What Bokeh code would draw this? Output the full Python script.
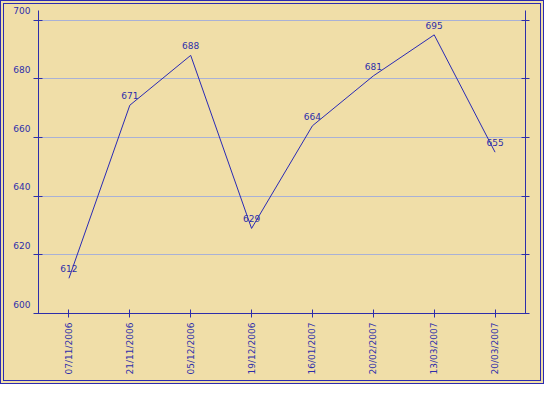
from bokeh.plotting import figure
from bokeh.models import ColumnDataSource, FactorRange, Range1d, LinearAxis, FixedTicker
from bokeh.core.properties import value
from bokeh.embed import file_html
from bokeh.resources import INLINE
import math

dates = ["07/11/2006", "21/11/2006", "05/12/2006", "19/12/2006",
         "16/01/2007", "20/02/2007", "13/03/2007", "20/03/2007"]
values = [612, 671, 688, 629, 664, 681, 695, 655]
y_ticks = [600, 620, 640, 660, 680, 700]

BLUE = "#2e2eaa"
LINE = "#2a2ab4"
GRID = "#a9b1d6"
BG = "#f0dea8"
FONT = "DejaVu Sans"

src = ColumnDataSource(dict(date=dates, val=values, lab=[str(v) for v in values]))

p = figure(width=544, height=384, output_backend="svg", toolbar_location=None,
           x_range=FactorRange(*dates, range_padding=0),
           y_range=Range1d(600, 703.3),
           min_border_left=34, min_border_right=23, min_border_top=6, min_border_bottom=75,
           background_fill_color=BG, border_fill_color=BG)
p.styles = {"border": "4px double #2b2bb0", "background-color": BG}
p.outline_line_color = None

p.line(x="date", y="val", source=src, line_color=LINE, line_width=1)
p.text(x="date", y="val", text="lab", source=src, text_font=value(FONT),
       text_font_size="9px", text_color=BLUE, text_align="center",
       text_baseline="bottom", y_offset=-6)

p.xgrid.grid_line_color = None
p.ygrid.ticker = FixedTicker(ticks=y_ticks)
p.ygrid.grid_line_color = GRID
p.ygrid.grid_line_width = 1

for ax in [p.xaxis[0], p.yaxis[0]]:
    ax.axis_line_color = BLUE
    ax.major_tick_line_color = BLUE
    ax.minor_tick_line_color = None
    ax.major_label_text_color = BLUE
    ax.major_label_text_font = FONT
    ax.major_label_text_font_size = "9px"
    ax.major_tick_in = 4
    ax.major_tick_out = 4

p.yaxis[0].ticker = FixedTicker(ticks=y_ticks)
p.yaxis[0].major_tick_out = 5
p.yaxis[0].major_label_standoff = 3
p.yaxis[0].major_label_text_line_height = 1.8
p.yaxis[0].major_label_overrides = {t: f"{t}\n" for t in y_ticks}

p.xaxis[0].major_label_orientation = math.pi / 2
p.xaxis[0].major_label_standoff = 5

r_ax = LinearAxis(ticker=FixedTicker(ticks=y_ticks),
                  major_label_overrides={t: "" for t in y_ticks})
r_ax.axis_line_color = BLUE
r_ax.major_tick_line_color = BLUE
r_ax.minor_tick_line_color = None
r_ax.major_tick_in = 4
r_ax.major_tick_out = 4
p.add_layout(r_ax, "right")

open("out.html", "w").write(file_html(p, INLINE))
